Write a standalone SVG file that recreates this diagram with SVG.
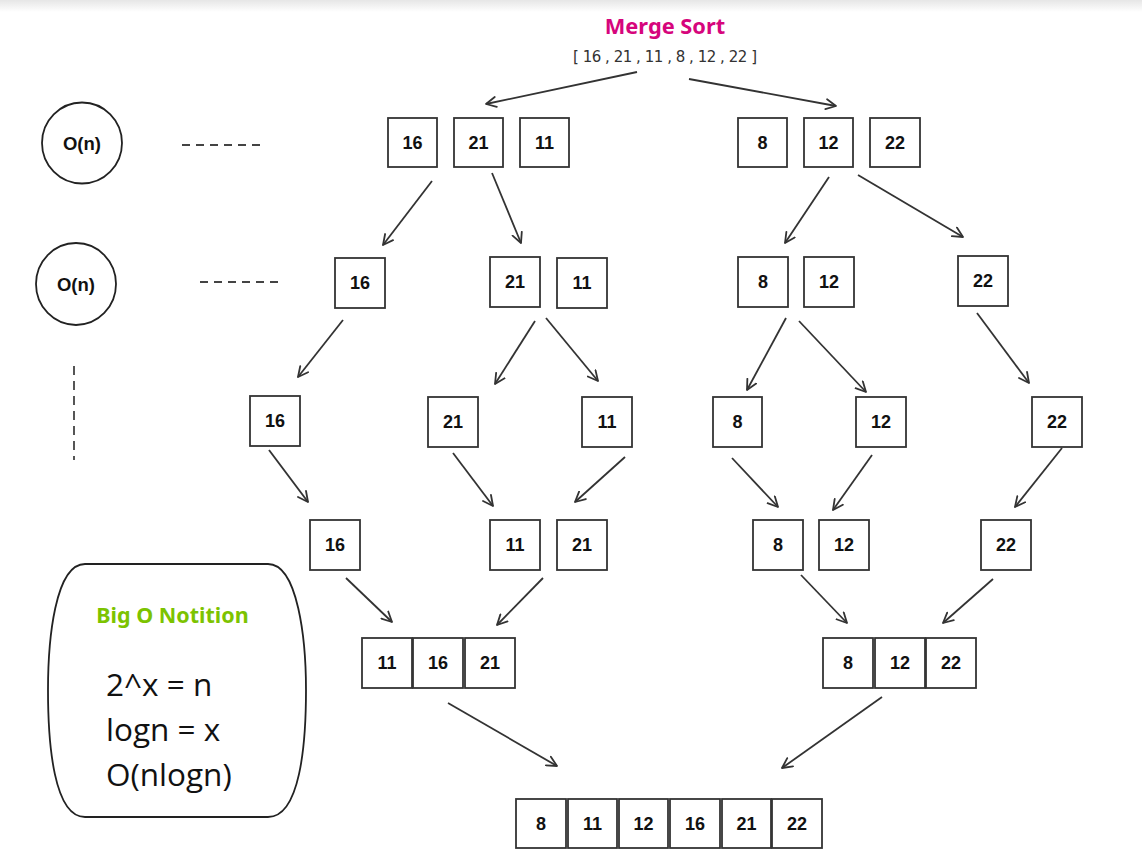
<svg xmlns="http://www.w3.org/2000/svg" width="1142" height="852" viewBox="0 0 1142 852">
<defs>
<linearGradient id="topShade" x1="0" y1="0" x2="0" y2="1">
<stop offset="0" stop-color="#e6e6e6"/>
<stop offset="1" stop-color="#ffffff"/>
</linearGradient>
<marker id="arr" viewBox="0 0 12 12" refX="11" refY="6" markerWidth="12" markerHeight="12" markerUnits="userSpaceOnUse" orient="auto">
<path d="M1,1 L11,6 L1,11" fill="none" stroke="#333" stroke-width="1.8" stroke-linecap="round" stroke-linejoin="round"/>
</marker>
<style>
.box{fill:#fff;stroke:#333;stroke-width:1.8}
.num{font-family:"Liberation Sans",Arial,sans-serif;font-weight:bold;font-size:18px;fill:#111;text-anchor:middle;dominant-baseline:central}
.conn line{stroke:#333;stroke-width:1.8;marker-end:url(#arr)}
.dash{stroke:#444;stroke-width:1.8;stroke-dasharray:8 6;fill:none}
.circ{fill:#fff;stroke:#222;stroke-width:1.8}
.on{font-family:"Liberation Sans",Arial,sans-serif;font-weight:bold;font-size:18.5px;fill:#111;text-anchor:middle;dominant-baseline:central}
.formula{font-family:"Open Sans","Noto Sans",sans-serif;font-size:31.5px;fill:#111}
</style>
</defs>
<rect x="0" y="0" width="1142" height="852" fill="#fff"/>
<rect x="0" y="0" width="1142" height="12" fill="url(#topShade)"/>

<g id="title">
<text x="665" y="34" font-family="'Noto Sans','Open Sans',sans-serif" font-weight="bold" font-size="21.8" fill="#D6057C" text-anchor="middle">Merge Sort</text>
<text x="665" y="62" font-family="'DejaVu Sans','Noto Sans',sans-serif" font-size="15" fill="#333" text-anchor="middle" textLength="184" lengthAdjust="spacing">[ 16 , 21 , 11 , 8 , 12 , 22 ]</text>
</g>

<g id="complexity-1">
<ellipse class="circ" cx="82" cy="143" rx="40" ry="40.5"/>
<text class="on" x="82" y="143">O(n)</text>
</g>
<g id="complexity-2">
<ellipse class="circ" cx="76" cy="284" rx="40" ry="41"/>
<text class="on" x="76" y="284">O(n)</text>
</g>
<g id="guides">
<line class="dash" x1="182" y1="145" x2="264" y2="145"/>
<line class="dash" x1="200" y1="282" x2="282" y2="282"/>
<line class="dash" x1="74" y1="366" x2="74" y2="460" style="stroke-dasharray:9 6"/>
</g>

<g id="bigo">
<path d="M85 564 L268 564 C298 564 306 640 306 690 C306 745 300 817 268 817 L85 817 C54 817 48 745 48 690 C48 640 55 564 85 564 Z" fill="#fff" stroke="#222" stroke-width="1.8"/>
<text x="172.5" y="623" font-family="'Noto Sans','Open Sans',sans-serif" font-weight="bold" font-size="21.5" fill="#7CC300" text-anchor="middle">Big O Notition</text>
<text class="formula" x="106" y="696">2^x = n</text>
<text class="formula" x="106" y="741">logn = x</text>
<text class="formula" x="106" y="786">O(nlogn)</text>
</g>

<g id="level1-left">
<rect class="box" x="388" y="118" width="49" height="49"/><text class="num" x="412.5" y="142.5">16</text>
<rect class="box" x="454" y="118" width="49" height="49"/><text class="num" x="478.5" y="142.5">21</text>
<rect class="box" x="520" y="118" width="49" height="49"/><text class="num" x="544.5" y="142.5">11</text>
</g>
<g id="level1-right">
<rect class="box" x="738" y="118" width="49" height="49"/><text class="num" x="762.5" y="142.5">8</text>
<rect class="box" x="804" y="118" width="49" height="49"/><text class="num" x="828.5" y="142.5">12</text>
<rect class="box" x="870" y="118" width="50" height="49"/><text class="num" x="895" y="142.5">22</text>
</g>

<g id="level2">
<rect class="box" x="335" y="258" width="50" height="50"/><text class="num" x="360" y="283">16</text>
<rect class="box" x="490" y="257" width="50" height="50"/><text class="num" x="515" y="282">21</text>
<rect class="box" x="557" y="258" width="50" height="50"/><text class="num" x="582" y="283">11</text>
<rect class="box" x="738" y="257" width="50" height="50"/><text class="num" x="763" y="282">8</text>
<rect class="box" x="804" y="257" width="50" height="50"/><text class="num" x="829" y="282">12</text>
<rect class="box" x="958" y="256" width="50" height="50"/><text class="num" x="983" y="281">22</text>
</g>

<g id="level3">
<rect class="box" x="250" y="396" width="50" height="50"/><text class="num" x="275" y="421">16</text>
<rect class="box" x="428" y="397" width="50" height="50"/><text class="num" x="453" y="422">21</text>
<rect class="box" x="582" y="397" width="50" height="50"/><text class="num" x="607" y="422">11</text>
<rect class="box" x="713" y="397" width="49" height="50"/><text class="num" x="737.5" y="422">8</text>
<rect class="box" x="856" y="397" width="50" height="50"/><text class="num" x="881" y="422">12</text>
<rect class="box" x="1032" y="397" width="50" height="50"/><text class="num" x="1057" y="422">22</text>
</g>

<g id="level4">
<rect class="box" x="310" y="520" width="50" height="50"/><text class="num" x="335" y="545">16</text>
<rect class="box" x="490" y="520" width="50" height="50"/><text class="num" x="515" y="545">11</text>
<rect class="box" x="557" y="520" width="50" height="50"/><text class="num" x="582" y="545">21</text>
<rect class="box" x="753" y="520" width="50" height="50"/><text class="num" x="778" y="545">8</text>
<rect class="box" x="819" y="520" width="50" height="50"/><text class="num" x="844" y="545">12</text>
<rect class="box" x="981" y="520" width="50" height="50"/><text class="num" x="1006" y="545">22</text>
</g>

<g id="merged-left">
<rect class="box" x="362" y="638" width="50" height="50"/><text class="num" x="387" y="663">11</text>
<rect class="box" x="413" y="638" width="50" height="50"/><text class="num" x="438" y="663">16</text>
<rect class="box" x="465" y="638" width="50" height="50"/><text class="num" x="490" y="663">21</text>
</g>
<g id="merged-right">
<rect class="box" x="823" y="638" width="50" height="50"/><text class="num" x="848" y="663">8</text>
<rect class="box" x="875" y="638" width="50" height="50"/><text class="num" x="900" y="663">12</text>
<rect class="box" x="926" y="638" width="50" height="50"/><text class="num" x="951" y="663">22</text>
</g>

<g id="sorted">
<rect class="box" x="516" y="799" width="50" height="49"/><text class="num" x="541" y="824">8</text>
<rect class="box" x="568" y="799" width="49" height="49"/><text class="num" x="592.5" y="824">11</text>
<rect class="box" x="619" y="799" width="49" height="49"/><text class="num" x="643.5" y="824">12</text>
<rect class="box" x="670" y="799" width="50" height="49"/><text class="num" x="695" y="824">16</text>
<rect class="box" x="722" y="799" width="49" height="49"/><text class="num" x="746.5" y="824">21</text>
<rect class="box" x="772" y="799" width="50" height="49"/><text class="num" x="797" y="824">22</text>
</g>

<g id="connectors" class="conn">
<line x1="637" y1="72" x2="486" y2="104"/>
<line x1="689" y1="79" x2="836" y2="106"/>
<line x1="432" y1="181" x2="383" y2="245"/>
<line x1="492" y1="173" x2="521" y2="243"/>
<line x1="829" y1="177" x2="785" y2="243"/>
<line x1="858" y1="175" x2="963" y2="237"/>
<line x1="343" y1="320" x2="298" y2="377"/>
<line x1="535" y1="321" x2="495" y2="384"/>
<line x1="546" y1="318" x2="598" y2="381"/>
<line x1="786" y1="318" x2="747" y2="390"/>
<line x1="799" y1="321" x2="866" y2="392"/>
<line x1="977" y1="313" x2="1029" y2="383"/>
<line x1="269" y1="450" x2="308" y2="502"/>
<line x1="453" y1="453" x2="493" y2="506"/>
<line x1="625" y1="457" x2="575" y2="502"/>
<line x1="732" y1="458" x2="778" y2="507"/>
<line x1="872" y1="455" x2="833" y2="510"/>
<line x1="1062" y1="448" x2="1015" y2="507"/>
<line x1="346" y1="578" x2="392" y2="622"/>
<line x1="543" y1="578" x2="497" y2="625"/>
<line x1="801" y1="575" x2="847" y2="623"/>
<line x1="993" y1="579" x2="943" y2="623"/>
<line x1="448" y1="703" x2="557" y2="766"/>
<line x1="882" y1="697" x2="782" y2="768"/>
</g>
</svg>
